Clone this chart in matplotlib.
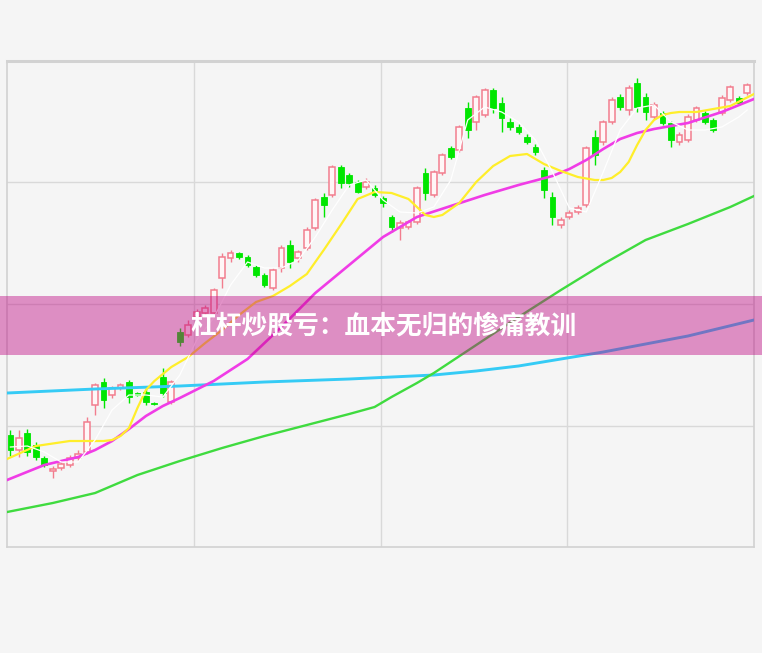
import numpy as np
import matplotlib
matplotlib.use("Agg")
import matplotlib.pyplot as plt
from matplotlib.patches import Rectangle

# daily OHLC (88 sessions)
opens = [7.24, 6.94, 7.28, 7.04, 6.78, 6.52, 6.58, 6.64, 6.78, 6.90,
         7.84, 8.30, 8.04, 8.18, 8.30, 8.08, 8.10, 7.88, 8.40, 7.90,
         9.30, 9.24, 9.60, 9.68, 9.68, 10.38, 10.78, 10.88, 10.80, 10.60,
         10.44, 10.18, 10.58, 11.04, 10.78, 10.98, 11.38, 12.00, 12.04, 12.60,
         12.44, 12.30, 12.20, 12.18, 11.98, 11.60, 11.38, 11.40, 11.50, 12.48,
         12.04, 12.48, 12.98, 12.94, 13.78, 13.50, 13.64, 14.14, 13.88, 13.50,
         13.40, 13.20, 13.00, 12.54, 12.00, 11.44, 11.60, 11.70, 11.84, 13.20,
         13.10, 13.50, 14.00, 13.74, 14.28, 14.00, 13.60, 13.68, 13.48, 13.10,
         13.14, 13.54, 13.68, 13.54, 13.68, 13.94, 13.98, 14.08]
highs = [7.34, 7.34, 7.36, 7.10, 6.82, 6.62, 6.70, 6.84, 6.94, 7.60,
         8.28, 8.38, 8.22, 8.28, 8.34, 8.10, 8.18, 7.90, 8.58, 8.34,
         9.38, 9.54, 9.76, 9.84, 10.18, 10.88, 10.94, 10.90, 10.84, 10.64,
         10.48, 10.58, 11.04, 11.14, 10.94, 11.40, 11.98, 12.08, 12.64, 12.64,
         12.48, 12.34, 12.38, 12.24, 12.02, 11.64, 11.54, 11.54, 12.22, 12.58,
         12.54, 12.88, 13.02, 13.44, 13.90, 14.04, 14.18, 14.18, 14.00, 13.58,
         13.46, 13.26, 13.06, 12.60, 12.10, 11.60, 11.74, 11.84, 13.02, 13.34,
         13.54, 14.00, 14.06, 14.24, 14.38, 14.08, 13.90, 13.72, 13.52, 13.30,
         13.66, 13.82, 13.72, 13.58, 14.04, 14.24, 14.02, 14.28]
lows = [6.82, 6.80, 6.82, 6.74, 6.60, 6.38, 6.54, 6.60, 6.74, 6.86,
        7.64, 7.78, 7.98, 8.14, 7.88, 8.02, 7.84, 7.84, 8.00, 7.86,
        9.02, 9.20, 9.56, 9.64, 9.64, 10.18, 10.70, 10.76, 10.60, 10.40,
        10.20, 10.14, 10.50, 10.58, 10.70, 10.94, 11.34, 11.60, 12.00, 12.18,
        12.20, 12.08, 12.16, 12.00, 11.80, 11.30, 11.14, 11.36, 11.46, 11.94,
        12.00, 12.44, 12.76, 12.90, 13.18, 13.34, 13.60, 13.68, 13.30, 13.34,
        13.26, 13.06, 12.84, 11.98, 11.44, 11.38, 11.56, 11.66, 11.80, 12.64,
        13.04, 13.46, 13.74, 13.64, 13.70, 13.54, 13.56, 13.44, 13.00, 13.04,
        13.10, 13.50, 13.46, 13.30, 13.64, 13.90, 13.84, 14.04]
closes = [6.94, 7.18, 6.90, 6.80, 6.64, 6.56, 6.66, 6.78, 6.86, 7.50,
          8.24, 7.94, 8.18, 8.24, 8.00, 8.04, 7.90, 7.86, 8.08, 8.30,
          9.10, 9.44, 9.70, 9.78, 10.14, 10.80, 10.88, 10.80, 10.64, 10.44,
          10.24, 10.54, 10.98, 10.70, 10.90, 11.34, 11.94, 11.84, 12.60, 12.28,
          12.28, 12.10, 12.30, 12.04, 11.88, 11.40, 11.48, 11.50, 12.18, 12.08,
          12.50, 12.84, 12.80, 13.40, 13.34, 14.00, 14.14, 13.78, 13.58, 13.40,
          13.30, 13.10, 12.90, 12.14, 11.60, 11.54, 11.68, 11.78, 12.98, 12.84,
          13.50, 13.94, 13.80, 14.18, 13.80, 13.70, 13.84, 13.48, 13.14, 13.24,
          13.60, 13.78, 13.50, 13.34, 13.98, 14.20, 13.88, 14.24]

# moving averages, sampled at session index
ma5_idx = [0, 2, 4, 6, 8, 10, 12, 14, 16, 18, 20, 22, 24, 26, 28, 30, 32, 34, 36, 38,
           40, 42, 44, 46, 48, 50, 52, 53, 54, 56, 58, 60, 62, 64, 66, 68, 70, 72, 74,
           76, 78, 80, 82, 84, 86, 87]
ma5 = [7.00, 7.02, 6.90, 6.70, 6.70, 7.14, 7.74, 8.04, 8.04, 8.00, 8.44, 9.14, 9.58,
       10.24, 10.70, 10.58, 10.58, 10.74, 11.20, 11.74, 12.24, 12.34, 11.94, 11.70,
       11.68, 11.80, 12.34, 12.94, 13.54, 13.80, 13.70, 13.50, 13.14, 12.50, 11.78,
       11.70, 12.50, 13.34, 13.78, 13.84, 13.50, 13.34, 13.34, 13.40, 13.60, 13.74]

ma10_idx = [-0.4, 3, 7, 11, 12, 13, 14, 15, 16, 17, 18, 19, 20, 21, 23, 25, 27, 29,
            31, 33, 35, 37, 39, 41, 43, 45, 47, 48, 49, 50, 51, 53, 55, 57, 59, 61,
            63, 65, 67, 69, 70, 71, 72, 73, 74, 75, 76, 77, 78, 79, 81, 83, 85, 87.8]
ma10 = [6.76, 7.02, 7.12, 7.12, 7.14, 7.22, 7.38, 7.78, 8.14, 8.32, 8.46, 8.60, 8.70,
        8.80, 9.08, 9.34, 9.64, 9.90, 10.02, 10.22, 10.46, 10.94, 11.44, 11.96, 12.10,
        12.08, 11.96, 11.80, 11.64, 11.60, 11.64, 11.88, 12.30, 12.62, 12.82, 12.86,
        12.66, 12.52, 12.40, 12.34, 12.34, 12.38, 12.50, 12.70, 13.04, 13.34, 13.54,
        13.64, 13.68, 13.70, 13.70, 13.76, 13.82, 14.06]

ma20_idx = [-0.4, 4, 8, 10, 12, 14, 16, 18, 20, 24, 28, 32, 36, 40, 44, 48, 52, 56,
            60, 64, 66, 68, 70, 72, 74, 76, 80, 84, 87.8]
ma20 = [6.34, 6.64, 6.80, 6.94, 7.12, 7.36, 7.62, 7.82, 7.98, 8.32, 8.76, 9.40, 10.08,
        10.64, 11.20, 11.60, 11.82, 12.04, 12.24, 12.42, 12.56, 12.74, 12.96, 13.16,
        13.28, 13.36, 13.48, 13.70, 13.96]

ma60_idx = [-0.4, 5, 10, 15, 20, 25, 30, 35, 40, 43, 45, 48, 50, 55, 60, 65, 70, 75,
            80, 85, 87.8]
ma60 = [5.70, 5.88, 6.08, 6.44, 6.72, 6.98, 7.22, 7.44, 7.66, 7.80, 8.00, 8.28, 8.48,
        9.04, 9.60, 10.14, 10.66, 11.14, 11.46, 11.80, 12.02]

ma120_idx = [-0.4, 10, 20, 30, 40, 50, 55, 60, 65, 70, 75, 80, 87.8]
ma120 = [8.08, 8.16, 8.22, 8.30, 8.36, 8.44, 8.52, 8.62, 8.76, 8.90, 9.06, 9.22, 9.54]

title = "杠杆炒股亏：血本无归的惨痛教训"

bg = "#f5f5f5"
up_col = "#f27d8e"
down_col = "#00e600"

fig = plt.figure(figsize=(7.62, 6.53), dpi=100, facecolor=bg)
ax = fig.add_axes([0.0092, 0.1623, 0.9803, 0.7443])
ax.set_facecolor(bg)

o = np.array(opens)
c = np.array(closes)
h = np.array(highs)
l = np.array(lows)
x = np.arange(len(o))
up = c >= o
down = ~up

# wicks first, bodies on top
ax.vlines(x[up], l[up], h[up], color=up_col, lw=1.0, zorder=2)
ax.vlines(x[down], l[down], h[down], color=down_col, lw=1.0, zorder=2)

bottom = np.minimum(o, c)
height = np.maximum(np.abs(c - o), 0.03)
ax.bar(x[up], height[up], 0.68, bottom[up], facecolor="#fff6f7",
       edgecolor=up_col, lw=1.1, zorder=3)
ax.bar(x[down], height[down], 0.68, bottom[down], facecolor=down_col,
       edgecolor=down_col, lw=0.6, zorder=3)

# moving average lines
ax.plot(ma120_idx, ma120, color="#35cbf5", lw=2.1, zorder=4, solid_joinstyle="round")
ax.plot(ma60_idx, ma60, color="#3fdb3f", lw=1.7, zorder=4, solid_joinstyle="round")
ax.plot(ma20_idx, ma20, color="#f03ce6", lw=1.9, zorder=4, solid_joinstyle="round")
ax.plot(ma10_idx, ma10, color="#ffee2a", lw=1.6, zorder=4, solid_joinstyle="round")
ax.plot(ma5_idx, ma5, color="white", lw=0.9, zorder=4)

xlo, xhi = -0.4, 87.8
ylo, yhi = 5.0, 14.72
ax.set_xlim(xlo, xhi)
ax.set_ylim(ylo, yhi)
ax.set_xticks(np.linspace(xlo, xhi, 5)[1:-1])
ax.set_yticks(np.linspace(ylo, yhi, 5)[1:-1])
ax.tick_params(length=0, labelbottom=False, labelleft=False)
ax.grid(True, color="#d9d9d9", lw=1.0)
ax.set_axisbelow(True)
for side in ax.spines:
    ax.spines[side].set_color("#d2d2d2")
    ax.spines[side].set_linewidth(1.2)
ax.spines["top"].set_linewidth(2.2)

# title banner across the middle
fig.patches.append(Rectangle((0, 0.4564), 1, 0.0903, transform=fig.transFigure,
                             facecolor=(191/255, 6/255, 130/255), alpha=0.43,
                             edgecolor="none", zorder=10))
fig.text(0.503, 0.501, title, ha="center", va="center", color="white",
         fontsize=18.5, fontweight="bold", family=["Noto Sans CJK SC", "DejaVu Sans"],
         zorder=11)

fig.savefig("out.png", dpi=100, facecolor=bg)
